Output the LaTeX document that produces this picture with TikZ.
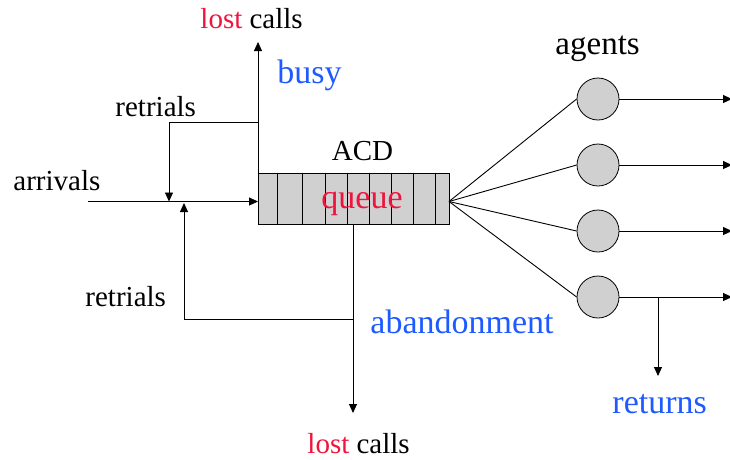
\documentclass[tikz,border=0pt]{standalone}
\usepackage{fontspec}
\setmainfont{Liberation Serif}
\usetikzlibrary{arrows.meta}
\definecolor{lostred}{RGB}{240,20,60}
\definecolor{lblue}{RGB}{30,90,255}
\definecolor{qgray}{RGB}{208,208,208}
\begin{document}
\begin{tikzpicture}[x=1pt,y=-1pt, line width=0.9pt,
  flow/.style={-{Triangle[length=9pt,width=8pt]}},
  lbl/.style={inner sep=0, anchor=base west, font=\fontsize{29}{30}\selectfont},
  blbl/.style={inner sep=0, anchor=base west, text=lblue, font=\fontsize{34}{34}\selectfont},
  agent/.style={circle, draw, fill=qgray, minimum size=42pt, inner sep=0, line width=0.8pt}]
\useasboundingbox (0,0) rectangle (730,459);
% queue
\node[draw, fill=qgray, minimum width=191pt, minimum height=51pt, inner sep=0, anchor=north west, line width=0.8pt] (q) at (258,172.5) {};
\foreach \x in {277,302.5,325,347,369,391,413,435.5} \draw[line width=0.8pt] (\x,172.5) -- (\x,223.5);
\node[inner sep=0, anchor=base west, text=lostred, font=\fontsize{34}{34}\selectfont] (qt) at (321,208) {queue};
\node[lbl] (acd) at (331.5,160) {ACD};
% coordinates
\coordinate (arrstart) at (88,201.5);
\coordinate (ujoin) at (169,201.5);
\coordinate (ljoin) at (184,203);
\coordinate (utop) at (258,42);
\coordinate (uret) at (258,122);
\coordinate (ucorner) at (169,122);
\coordinate (lsplit) at (353,319);
\coordinate (lbot) at (353,413);
\coordinate (lcorner) at (184,319);
\coordinate (qe) at (449,201.5);
% arrivals
\draw[flow] (arrstart) -- (arrstart -| q.west);
% busy / upper retrials
\draw[flow] (q.north west) -- (utop);
\draw[flow] (uret) -- (ucorner) -- (ujoin);
% abandonment / lower retrials
\draw[flow] (lsplit |- q.south) -- (lbot);
\draw[flow] (lsplit) -- (lcorner) -- (ljoin);
% agents
\node[agent] (a1) at (598,99) {};
\node[agent] (a2) at (598,165) {};
\node[agent] (a3) at (598,231) {};
\node[agent] (a4) at (598,297) {};
\foreach \i in {1,2,3,4} {
  \draw (qe) -- (a\i.west);
  \coordinate (o\i) at (a\i.east -| 732,0);
  \draw[flow] (a\i.east) -- (o\i);
}
\coordinate (rs) at (658,297);
\coordinate (rb) at (658,376);
\draw[flow] (rs) -- (rb);
% labels
\node[lbl] (lost1) at (200,28) {\textcolor{lostred}{lost} calls};
\node[blbl] (busy) at (277,83) {busy};
\node[lbl] (ret1) at (115,116) {retrials};
\node[lbl] (arr) at (13,190) {arrivals};
\node[lbl] (ret2) at (85,306.5) {retrials};
\node[lbl, font=\fontsize{33}{34}\selectfont] (agents) at (555,54) {agents};
\node[blbl] (aband) at (370,333) {abandonment};
\node[blbl] (ret) at (612,413) {returns};
\node[lbl] (lost2) at (307,453) {\textcolor{lostred}{lost} calls};
\end{tikzpicture}
\end{document}
